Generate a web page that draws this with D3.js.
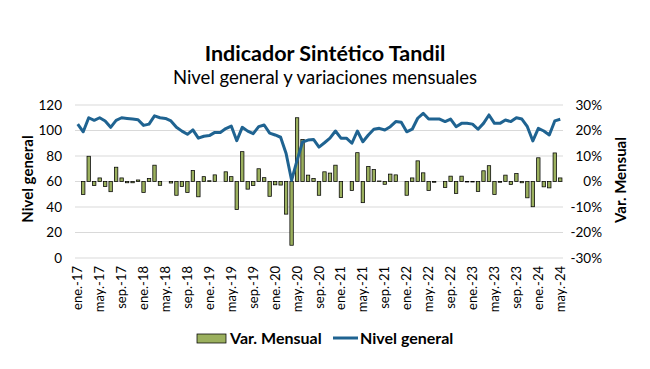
<!DOCTYPE html>
<html>
<head>
<meta charset="utf-8">
<script src="https://cdn.jsdelivr.net/npm/d3@7"></script>
<style>
  body { margin: 0; background: #fff; }
  text { font-family: Lato, "Liberation Sans", sans-serif; fill: #000; }
</style>
</head>
<body>
<div id="chart"></div>
<script>
// meses ene-17 .. may-24
const mesesAbr = ["ene.", "feb.", "mar.", "abr.", "may.", "jun.", "jul.", "ago.", "sep.", "oct.", "nov.", "dic."]
const anios = [17, 18, 19, 20, 21, 22, 23, 24]
const meses = []
anios.forEach(a => mesesAbr.forEach((m, i) => { if (a < 24 || i < 5) meses.push(m + "-" + a) }))

// nivel general (indice)
const nivel = [105, 99, 110, 108, 110, 107.5, 102.5, 108, 110, 109.5, 109, 108.5,
  104, 105, 111.5, 110, 109.5, 107.5, 102.5, 99.5, 97, 100.5, 94, 95.5,
  96, 98.5, 98.5, 101.5, 103.5, 92, 102.5, 99.5, 97.5, 103, 104.3, 98,
  96.5, 94.7, 82, 61, 76.5, 91, 92.5, 93, 87, 90.4, 94, 99.6,
  94, 94, 90, 99.6, 91.2, 96.5, 101, 101.7, 100.4, 103, 107, 106.4,
  99, 101, 109.6, 113.5, 109, 109, 109, 107, 109, 103, 105.6, 105.6,
  105, 101, 105.6, 112.2, 105.6, 105.6, 108.2, 107, 110, 109, 103, 91.8,
  101.7, 99.6, 96.5, 107.5, 108.8]

// variacion mensual (%)
const variacion = [0, -5.1, 9.9, -1.6, 1.4, -2.0, -4.0, 5.6, 1.4, -0.5, -0.5, 0.6,
  -4.3, 1.2, 6.4, -1.5, 0, -0.6, -5.4, -2.0, -4.3, 4.3, -6.0, 1.9,
  0.3, 2.6, 0, 3.8, 1.9, -11.0, 11.7, -3.0, -1.6, 5.0, 1.5, -5.8,
  -1.3, -1.4, -12.8, -25.0, 25.0, 16.5, 2.5, 1.2, -5.4, 3.8, 3.3, 6.4,
  -6.3, 0, -3.5, 11.3, -8.3, 5.9, 4.7, 0.2, -1.1, 2.9, 2.6, 0,
  -5.4, 1.4, 8.1, 3.4, -3.5, -0.3, 0, -2.4, 2.1, -4.7, 2.1, -0.2,
  -0.2, -3.9, 4.2, 6.2, -5.1, -0.3, 2.5, -1.2, 3.1, -0.5, -6.4, -9.9,
  9.3, -2.1, -2.5, 11.2, 1.4]

const ticksNivel = [0, 20, 40, 60, 80, 100, 120]
const ticksVar = [-30, -20, -10, 0, 10, 20, 30]

const width = 650, height = 369
const plotLeft = 75, plotRight = 563, plotTop = 105, plotBottom = 258
const verde = "#9BB05E", azul = "#1F6391"

const svg = d3.select("#chart").append("svg")
  .attr("width", width)
  .attr("height", height)

const x = d3.scaleBand().domain(meses).range([plotLeft, plotRight]).paddingInner(0.38).paddingOuter(0.19)
const y = d3.scaleLinear().domain([0, 120]).range([plotBottom, plotTop])
const y2 = d3.scaleLinear().domain([-30, 30]).range([plotBottom, plotTop])

// titulos
svg.append("text").attr("x", 325).attr("y", 61).attr("text-anchor", "middle")
  .style("font-size", "21.5px").style("font-weight", "bold").text("Indicador Sintético Tandil")
svg.append("text").attr("x", 325).attr("y", 84).attr("text-anchor", "middle")
  .style("font-size", "18.5px").text("Nivel general y variaciones mensuales")

// grilla
svg.append("g").selectAll("line").data(ticksNivel).join("line")
  .attr("x1", plotLeft).attr("x2", plotRight)
  .attr("y1", d => y(d)).attr("y2", d => y(d))
  .attr("stroke", "#d9d9d9").attr("stroke-width", 1)

// eje izquierdo
svg.append("g").selectAll("text").data(ticksNivel).join("text")
  .attr("x", 62).attr("y", d => y(d)).attr("dy", "0.35em")
  .attr("text-anchor", "end").style("font-size", "13.5px").text(d => d)

// eje derecho
svg.append("g").selectAll("text").data(ticksVar).join("text")
  .attr("x", 602).attr("y", d => y2(d)).attr("dy", "0.35em")
  .attr("text-anchor", "end").style("font-size", "13.5px").text(d => d + "%")

svg.append("text").attr("transform", "translate(33,179) rotate(-90)")
  .attr("text-anchor", "middle").style("font-size", "15px").style("font-weight", "bold")
  .text("Nivel general")
svg.append("text").attr("transform", "translate(626,180) rotate(-90)")
  .attr("text-anchor", "middle").style("font-size", "15px").style("font-weight", "bold")
  .text("Var. Mensual")

// etiquetas de meses (cada 4)
svg.append("g").selectAll("text").data(meses.filter((d, i) => i % 4 === 0)).join("text")
  .attr("transform", d => "translate(" + (x(d) + x.bandwidth() / 2) + ",266) rotate(-90)")
  .attr("dy", "0.35em").attr("text-anchor", "end").style("font-size", "13px").text(d => d)

// barras
svg.append("g").selectAll("rect").data(variacion).join("rect")
  .attr("x", (d, i) => x(meses[i]))
  .attr("width", x.bandwidth())
  .attr("y", d => Math.min(y2(d), y2(0)))
  .attr("height", d => Math.abs(y2(d) - y2(0)))
  .attr("fill", verde).attr("stroke", "#000").attr("stroke-width", 0.75)

// linea
const linea = d3.line()
  .x((d, i) => x(meses[i]) + x.bandwidth() / 2)
  .y(d => y(d))
svg.append("path").datum(nivel).attr("d", linea)
  .attr("fill", "none").attr("stroke", azul).attr("stroke-width", 3)
  .attr("stroke-linejoin", "round")

// leyenda
const leg = svg.append("g")
leg.append("rect").attr("x", 197).attr("y", 334).attr("width", 29).attr("height", 9)
  .attr("fill", verde).attr("stroke", "#000").attr("stroke-width", 0.75)
leg.append("text").attr("x", 230).attr("y", 344).style("font-size", "16px").style("font-weight", "bold")
  .text("Var. Mensual")
leg.append("line").attr("x1", 333).attr("x2", 358).attr("y1", 338).attr("y2", 338)
  .attr("stroke", azul).attr("stroke-width", 3)
leg.append("text").attr("x", 360).attr("y", 344).style("font-size", "16px").style("font-weight", "bold")
  .text("Nivel general")
</script>
</body>
</html>
